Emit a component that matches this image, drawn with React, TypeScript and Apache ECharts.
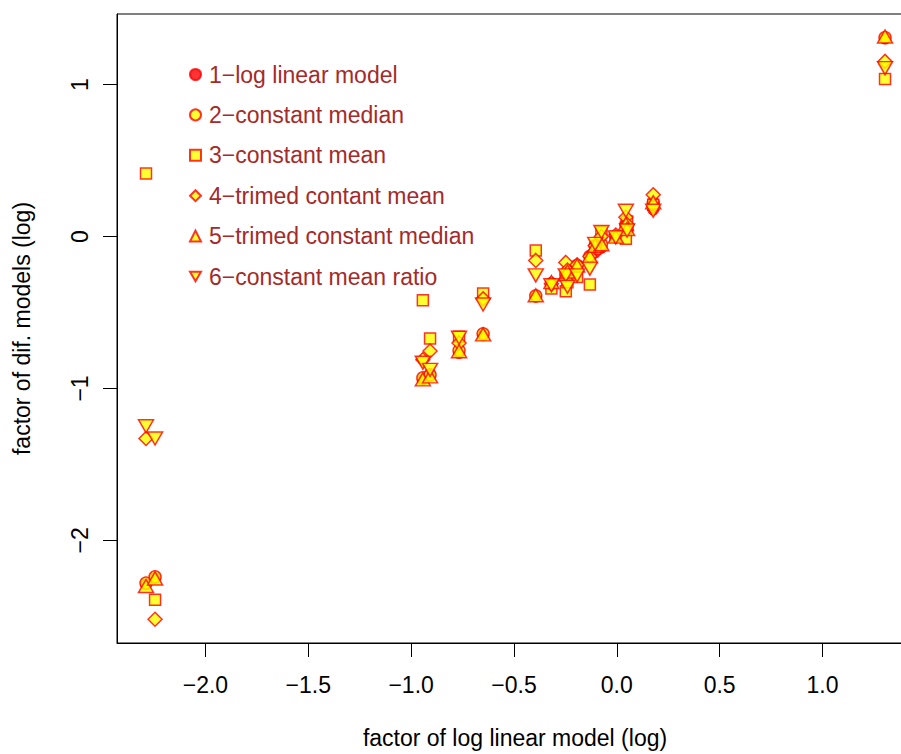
import React, { useEffect, useRef } from "react";
import * as echarts from "echarts";

// x: factor of log linear model (log), shared by all six series
const xValues = [-2.289, -2.245, -0.943, -0.908, -0.767, -0.65, -0.394, -0.318, -0.248, -0.24, -0.193, -0.131, -0.105, -0.075, -0.005, 0.044, 0.05, 0.177, 1.304];

// y: factor of the different models (log)
const logLinear = [-2.289, -2.245, -0.943, -0.908, -0.767, -0.65, -0.394, -0.318, -0.248, -0.24, -0.193, -0.131, -0.105, -0.075, -0.005, 0.044, 0.05, 0.177, 1.304];
const constMedian = [-2.28, -2.24, -0.93, -0.91, -0.75, -0.64, -0.39, -0.31, -0.25, -0.23, -0.19, -0.13, -0.06, -0.05, 0.0, 0.08, 0.05, 0.22, 1.31];
const constMean = [0.415, -2.39, -0.419, -0.67, -0.66, -0.375, -0.092, -0.342, -0.36, -0.3, -0.266, -0.316, -0.08, 0.03, 0.0, -0.015, 0.1, 0.21, 1.037];
const trimConstMean = [-1.329, -2.519, -0.81, -0.753, -0.7, -0.41, -0.157, -0.31, -0.17, -0.22, -0.185, -0.13, -0.06, 0.0, 0.01, 0.127, 0.08, 0.275, 1.153];
const trimConstMedian = [-2.3, -2.25, -0.94, -0.92, -0.755, -0.644, -0.386, -0.299, -0.25, -0.23, -0.19, -0.13, -0.06, -0.05, 0.0, 0.083, 0.05, 0.225, 1.317];
const constMeanRatio = [-1.248, -1.329, -0.83, -0.877, -0.666, -0.447, -0.255, -0.32, -0.255, -0.33, -0.255, -0.211, -0.048, 0.03, -0.005, 0.17, 0.04, 0.17, 1.109];

const seriesNames = [
  "1\u2212log linear model",
  "2\u2212constant median",
  "3\u2212constant mean",
  "4\u2212trimed contant mean",
  "5\u2212trimed constant median",
  "6\u2212constant mean ratio",
];
const seriesValues = [logLinear, constMedian, constMean, trimConstMean, trimConstMedian, constMeanRatio];

const xTicks = [-2.0, -1.5, -1.0, -0.5, 0.0, 0.5, 1.0];
const yTicks = [-2, -1, 0, 1];

const FONT = "'Liberation Sans', Arial, Helvetica, sans-serif";
const FS = 23;
const DOWN = "path://M0,0L10,0L5,8.66Z";
const symbols = ["circle", "circle", "rect", "diamond", "triangle", DOWN];
const sizes: any[] = [11, 12, 11, 14, [15, 13], [15, 13]];
const legendIcons = ["circle", "circle", "rect", "diamond", "triangle", DOWN];

const minus = (s: string) => s.replace("-", "\u2212");

export default function App() {
  const ref = useRef<HTMLDivElement>(null);
  useEffect(() => {
    document.body.style.margin = "0";
    const chart = echarts.init(ref.current!, null, { renderer: "svg" });
    const series = seriesValues.map((vals, si) => ({
      name: seriesNames[si],
      type: "scatter",
      symbol: symbols[si],
      symbolSize: sizes[si],
      data: xValues.map((x, i) => [x, vals[i]]),
      itemStyle:
        si === 0
          ? { color: "#FF0000", borderColor: "#FF0000", borderWidth: 1 }
          : { color: "#FFFF00", borderColor: "#FF0000", borderWidth: 1.5 },
      emphasis: { disabled: true },
    }));
    chart.setOption({
      animation: false,
      backgroundColor: "#FFFFFF",
      grid: {
        left: 117,
        top: 14,
        width: 796,
        height: 632,
        show: true,
        borderColor: "#000",
        borderWidth: 1,
        backgroundColor: "transparent",
      },
      legend: {
        orient: "vertical",
        left: 189,
        top: 63,
        padding: 0,
        itemWidth: 11,
        itemHeight: 11,
        itemGap: 17.4,
        selectedMode: false,
        textStyle: { color: "#A52A2A", fontSize: FS, fontFamily: FONT, padding: [0, 0, 0, 3] },
        data: seriesNames.map((n, i) => ({ name: n, icon: legendIcons[i] })),
      },
      xAxis: {
        type: "value",
        min: -2.43,
        max: 1.44,
        name: "factor of log linear model (log)",
        nameLocation: "middle",
        nameGap: 83,
        nameTextStyle: { color: "#000", fontSize: FS, fontFamily: FONT },
        axisLine: { show: true, onZero: false, lineStyle: { color: "#000" } },
        axisTick: { show: true, inside: false, length: 14, customValues: xTicks, lineStyle: { color: "#000" } },
        axisLabel: {
          customValues: xTicks,
          margin: 30,
          color: "#000",
          fontSize: FS,
          fontFamily: FONT,
          formatter: (v: number) => minus(v.toFixed(1)),
        },
        splitLine: { show: false },
      },
      yAxis: {
        type: "value",
        min: -2.675,
        max: 1.465,
        name: "factor of dif. models (log)",
        nameLocation: "middle",
        nameRotate: 90,
        nameGap: 84,
        nameTextStyle: { color: "#000", fontSize: FS, fontFamily: FONT },
        axisLine: { show: true, onZero: false, lineStyle: { color: "#000" } },
        axisTick: { show: true, inside: false, length: 14, customValues: yTicks, lineStyle: { color: "#000" } },
        axisLabel: {
          customValues: yTicks,
          rotate: 90,
          margin: 26,
          color: "#000",
          fontSize: FS,
          fontFamily: FONT,
          formatter: (v: number) => minus(String(v)),
        },
        splitLine: { show: false },
      },
      series,
    });
    return () => chart.dispose();
  }, []);
  return (
    <div style={{ width: 901, height: 754, overflow: "hidden", position: "relative" }}>
      <div ref={ref} style={{ width: 915, height: 754 }} />
    </div>
  );
}
